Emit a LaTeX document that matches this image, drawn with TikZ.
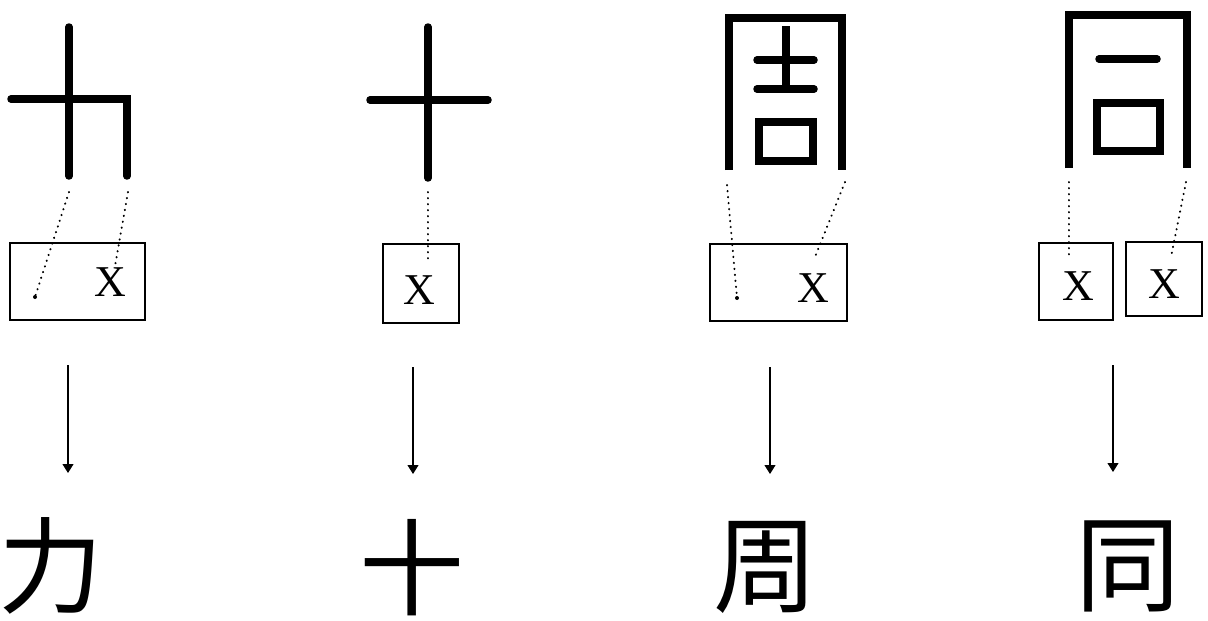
\documentclass[tikz,border=0pt]{standalone}
\usepackage{fontspec}
\setmainfont{Liberation Serif}
\newfontfamily\cjk{Noto Sans CJK SC}
\usetikzlibrary{arrows.meta}
\begin{document}
\begin{tikzpicture}[x=1pt,y=-1pt,
  stroke/.style={line width=7.5pt,line cap=round,line join=miter},
  frame/.style={line width=7.5pt,line cap=butt,line join=miter},
  cell/.style={draw,line width=1.6pt,inner sep=0pt},
  xlab/.style={font=\fontsize{44}{44}\selectfont,inner sep=0pt},
  dotline/.style={line width=2pt,line cap=round,dash pattern=on 0.4pt off 5.6pt},
  flow/.style={line width=1.1pt,-{Triangle[width=11pt,length=9pt]}},
  han/.style={font=\cjk\fontsize{105}{105}\selectfont,inner sep=0pt},
  pt/.style={circle,fill,inner sep=0pt,minimum size=4pt}]
\useasboundingbox (0,0) rectangle (1208,621);

% ---- decomposed glyphs
% li
\draw[stroke] (69,27) -- (69,176);
\draw[stroke] (11,99) -- (127,99) -- (127,176);
% shi
\draw[stroke] (428,27) -- (428,178);
\draw[stroke] (370,100) -- (488,100);
% zhou
\draw[frame] (729,170) -- (729,18) -- (842,18) -- (842,170);
\draw[frame] (786,26) -- (786,89);
\draw[stroke] (757,60) -- (814,60);
\draw[stroke] (757,89) -- (814,89);
\draw[frame] (759,122) rectangle (813,161);
% tong
\draw[frame] (1069,168) -- (1069,15) -- (1187,15) -- (1187,168);
\draw[stroke] (1099,59) -- (1157,59);
\draw[frame] (1097,103) rectangle (1160,151);

% ---- cells
\node[cell,minimum width=135pt,minimum height=77pt] (c1) at (77.5,281.5) {};
\node[cell,minimum width=76pt,minimum height=79pt] (c2) at (421,283.5) {};
\node[cell,minimum width=137pt,minimum height=77pt] (c3) at (778.5,282.5) {};
\node[cell,minimum width=74pt,minimum height=77pt] (c4a) at (1076,281.5) {};
\node[cell,minimum width=76pt,minimum height=74pt] (c4b) at (1164,279) {};

\node[xlab] (x1) at (110,282) {X};
\node[xlab] (x2) at (419,290) {X};
\node[xlab] (x3) at (813,288) {X};
\node[xlab] (x4a) at (1078,286) {X};
\node[xlab] (x4b) at (1164,284) {X};

\node[pt] (dot1) at (35,297) {};
\node[pt] (dot3) at (737,298) {};

% ---- dotted links
\coordinate (s1a) at (69,192);
\coordinate (s1b) at (128,192);
\coordinate (e1b) at (115,266);
\coordinate (s2) at (428,192);
\coordinate (e2) at (428,262);
\coordinate (s3a) at (727,185);
\coordinate (s3b) at (845,182);
\coordinate (e3b) at (815,257);
\coordinate (s4a) at (1069,182);
\coordinate (e4a) at (1069,257);
\coordinate (s4b) at (1186,182);
\coordinate (e4b) at (1171,257);
\draw[dotline] (s1a) -- (dot1);
\draw[dotline] (s1b) -- (e1b);
\draw[dotline] (s2) -- (e2);
\draw[dotline] (s3a) -- (dot3);
\draw[dotline] (s3b) -- (e3b);
\draw[dotline] (s4a) -- (e4a);
\draw[dotline] (s4b) -- (e4b);

% ---- arrows
\coordinate (a1) at (68,365);  \coordinate (b1) at (68,473);
\coordinate (a2) at (413,367); \coordinate (b2) at (413,474);
\coordinate (a3) at (770,367); \coordinate (b3) at (770,474);
\coordinate (a4) at (1113,365);\coordinate (b4) at (1113,472);
\draw[flow] (a1) -- (b1);
\draw[flow] (a2) -- (b2);
\draw[flow] (a3) -- (b3);
\draw[flow] (a4) -- (b4);

% ---- characters
\node[han] (h1) at (51,566) {力};
\node[han] (h2) at (412,568) {十};
\node[han] (h3) at (766,567) {周};
\node[han] (h4) at (1128,566) {同};
\end{tikzpicture}
\end{document}
